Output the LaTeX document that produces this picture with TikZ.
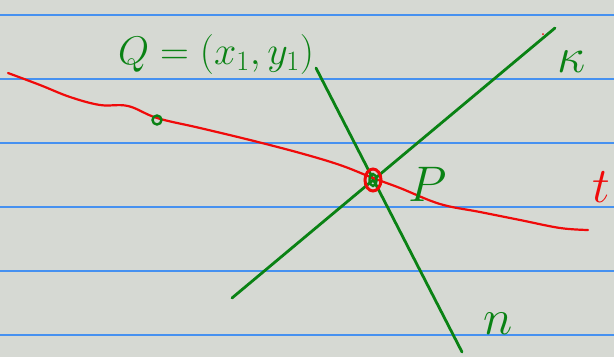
\RequirePackage{fix-cm}
\documentclass[tikz,border=0pt]{standalone}
\usepackage{xcolor}
\definecolor{paper}{RGB}{214,217,211}
\definecolor{rulingblue}{RGB}{70,145,240}
\definecolor{inkgreen}{RGB}{10,130,20}
\definecolor{inkred}{RGB}{240,10,10}
\usepackage{tikz}
\usetikzlibrary{calc}

\tikzset{
  greenline/.style={draw=inkgreen, line width=2.8pt, line cap=round},
  redline/.style={draw=inkred, line width=2.2pt, line cap=round, line join=round},
  greenlabel/.style={text=inkgreen, inner sep=0pt},
  redlabel/.style={text=inkred, inner sep=0pt}
}

\begin{document}
\begin{tikzpicture}[x=1pt, y=-1pt]
      % Background paper
      \fill[paper] (0,0) rectangle (614,357);
      \useasboundingbox (0,0) rectangle (614,357);

      % Ruled lines
      \foreach \yy in {15,79,143,207,271,335}
        \draw[draw=rulingblue, line width=1.3pt] (0,\yy) -- (614,\yy);

      % Points
      \coordinate (P) at (373,180);
      \coordinate (Q) at (157,120);

      % Green lines through P
      \coordinate (nA) at (316,68);
      \coordinate (nB) at (462,352);
      \coordinate (kA) at (232,298);
      \coordinate (kB) at (555,28);
      \draw[greenline] (nA) -- (nB);
      \draw[greenline] (kA) -- (kB);
      \fill[inkred] (543,34) circle (1pt);

      % Red curve t
      \draw[redline] plot[smooth, tension=0.6] coordinates {
        (8,73) (40,85) (70,97) (100,105) (128,106) (157,118) (200,128)
        (250,140) (300,153) (340,165) (373,178) (400,188) (440,204)
        (480,212) (520,220) (560,228) (588,230)};

      % Point Q and point P
      \draw[inkgreen, line width=2.4pt] (Q) circle (4.5pt);
      \draw[inkred, line width=3pt] (P) ellipse (8pt and 11pt);
      \draw[inkgreen, line width=2.4pt] (P) ellipse (3.5pt and 6pt);

      % Labels
      \node[greenlabel, font=\fontsize{40}{44}\selectfont] (lQ) at (216,54) {$Q=(x_1,y_1)$};
      \node[greenlabel, font=\fontsize{50}{54}\selectfont] (lP) at (428,184) {$P$};
      \node[redlabel, font=\fontsize{50}{54}\selectfont] (lt) at (601,187) {$t$};
      \node[greenlabel, font=\fontsize{50}{54}\selectfont] (lk) at (572,62) {$\kappa$};
      \node[greenlabel, font=\fontsize{50}{54}\selectfont] (ln) at (498,324) {$n$};
\end{tikzpicture}
\end{document}
